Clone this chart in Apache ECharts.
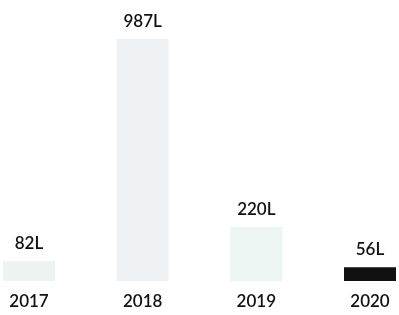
<!DOCTYPE html>
<html><head><meta charset="utf-8">
<script src="https://cdn.jsdelivr.net/npm/echarts@6/dist/echarts.min.js"></script>
<style>html,body{margin:0;padding:0;background:#fff}#c{width:399px;height:315px}</style>
</head><body><div id="c"></div>
<script>
const categories = ['2017', '2018', '2019', '2020'];
const values = [82, 987, 220, 56];
const barColors = ['#edf3f1', '#eef2f4', '#eef6f3', '#111111'];
const unit = 'L';

const chart = echarts.init(document.getElementById('c'));
chart.setOption({
  animation: false,
  grid: { left: 29, right: 29, top: 39, bottom: 34 },
  xAxis: {
    type: 'category', data: categories, boundaryGap: false,
    axisLine: { show: false }, axisTick: { show: false },
    axisLabel: { color: '#111', fontSize: 17, fontFamily: 'Lato', fontWeight: 600, margin: 12 }
  },
  yAxis: { type: 'value', min: 0, max: 987, show: false, splitLine: { show: false } },
  series: [{
    type: 'bar', barWidth: 52,
    data: values.map((v, i) => ({ value: v, itemStyle: { color: barColors[i] } })),
    label: { show: true, position: 'top', distance: 9, color: '#111', fontSize: 17, fontFamily: 'Lato', fontWeight: 600,
      formatter: p => p.value + unit }
  }]
});
</script></body></html>
